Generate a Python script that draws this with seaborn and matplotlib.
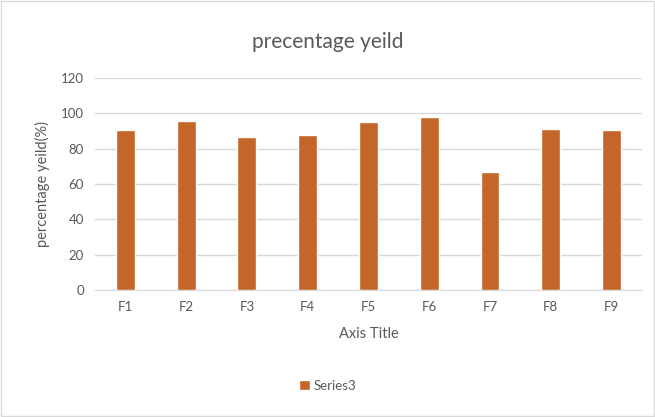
import matplotlib
matplotlib.use("Agg")
import matplotlib.pyplot as plt
import seaborn as sns
import pandas as pd

# Data
categories = ["F1", "F2", "F3", "F4", "F5", "F6", "F7", "F8", "F9"]
yield_pct = [90.6, 95.7, 86.5, 87.9, 95.2, 97.7, 66.9, 91.1, 90.6]
series_name = "Series3"

df = pd.DataFrame({"cat": categories, "val": yield_pct, "series": series_name})

sns.set_style("white")
plt.rcParams["font.family"] = ["Lato", "DejaVu Sans"]

grey = "#595959"
bar_color = "#C4662A"

fig = plt.figure(figsize=(6.55, 4.17), dpi=100)
ax = fig.add_axes([0.145, 0.305, 0.835, 0.508])

sns.barplot(data=df, x="cat", y="val", hue="series", palette=[bar_color],
            saturation=1, width=0.31, ax=ax, legend=True)

ax.set_ylim(0, 120)
ax.set_yticks(range(0, 121, 20))
ax.set_xlim(-0.5, len(categories) - 0.5)
ax.yaxis.grid(True, color="#D9D9D9", linewidth=1)
ax.set_axisbelow(True)
for s in ["top", "right", "left"]:
    ax.spines[s].set_visible(False)
ax.spines["bottom"].set_color("#D9D9D9")
ax.tick_params(axis="both", length=0, colors=grey, labelsize=9.5, pad=8)

ax.set_xlabel("Axis Title", color=grey, fontsize=10.5, labelpad=10)
ax.set_ylabel("percentage yeild(%)", color=grey, fontsize=10.5, labelpad=8)
fig.text(0.5, 0.9, "precentage yeild", ha="center", va="center",
         fontsize=15, color=grey)

ax.legend_.remove()
fig.legend(*ax.get_legend_handles_labels(), loc="center", bbox_to_anchor=(0.5, 0.075),
           frameon=False, fontsize=9.5, labelcolor=grey, handlelength=0.85,
           handleheight=0.85, handletextpad=0.3)

# light border around chart area
fig.patches.append(plt.Rectangle((0.002, 0.002), 0.996, 0.996, transform=fig.transFigure,
                                 fill=False, edgecolor="#D9D9D9", linewidth=1))

fig.savefig("out.png", dpi=100)
